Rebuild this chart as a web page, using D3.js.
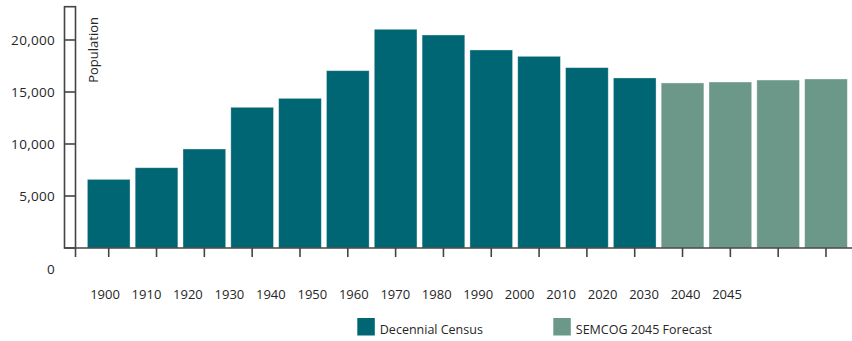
<!DOCTYPE html>
<html>
<head>
<meta charset="utf-8">
<script src="https://cdn.jsdelivr.net/npm/d3@7"></script>
<style>
  html, body { margin: 0; padding: 0; background: #fff; }
  svg { display: block; }
  text { font-family: "Open Sans", "Noto Sans", sans-serif; fill: #262626; }
</style>
</head>
<body>
<svg id="chart" width="852" height="341"></svg>
<script>
const categories = ["1900","1910","1920","1930","1940","1950","1960","1970","1980","1990","2000","2010","2020","2030","2040","2045"];
const barKeys = d3.range(16).map(String);
const values = [6600, 7720, 9520, 13530, 14390, 17050, 21030, 20480, 19040, 18430, 17340, 16350, 15870, 15960, 16150, 16250];
const seriesOf = ["census","census","census","census","census","census","census","census","census","census","census","census","forecast","forecast","forecast","forecast"];
const yTicks = [0, 5000, 10000, 15000, 20000];
const yMax = 23200;
const legendItems = [
  { key: "census", label: "Decennial Census" },
  { key: "forecast", label: "SEMCOG 2045 Forecast" }
];
const colors = { census: "#006673", forecast: "#6c9889" };

const svg = d3.select("#chart");
const axisColor = "#444444";
const y0 = 248, yTop = 6.7;
const wallL = 64.5, wallR = 75.5;

const y = d3.scaleLinear().domain([0, yMax]).range([y0, yTop]);
const x = d3.scaleBand().domain(barKeys).range([84.8, 849.9]).paddingInner(0.107).paddingOuter(0.0535);
const xl = d3.scalePoint().domain(categories).range([105, 727]);

// bars
svg.append("g").selectAll("rect").data(values).join("rect")
  .attr("x", (d, i) => x(barKeys[i]))
  .attr("width", x.bandwidth())
  .attr("y", d => y(d))
  .attr("height", d => y0 - y(d))
  .attr("fill", (d, i) => colors[seriesOf[i]])
  .attr("stroke", "#ffffff").attr("stroke-opacity", 0.45).attr("stroke-width", 0.8);

// y axis wall
const g = svg.append("g").attr("stroke", axisColor).attr("stroke-width", 1.6).attr("fill", "none");
g.append("rect").attr("x", wallL).attr("y", yTop).attr("width", wallR - wallL).attr("height", y0 - yTop);
g.selectAll("line.yt").data(yTicks.filter(d => d > 0)).join("line")
  .attr("x1", wallL).attr("x2", wallR).attr("y1", d => y(d)).attr("y2", d => y(d));
// baseline
g.append("line").attr("x1", wallL).attr("x2", 852).attr("y1", y0).attr("y2", y0);
// x ticks
const tickXs = [wallR].concat(barKeys.map(k => x(k) + x.bandwidth() / 2));
g.selectAll("line.xt").data(tickXs).join("line")
  .attr("x1", d => d).attr("x2", d => d).attr("y1", y0).attr("y2", y0 + 9);

// y tick labels
svg.append("g").selectAll("text").data(yTicks).join("text")
  .attr("x", 55)
  .attr("y", d => d === 0 ? y(d) + 26 : y(d) + 5)
  .attr("text-anchor", "end")
  .style("font-size", "13.5px")
  .style("letter-spacing", "0.3px")
  .text(d => d3.format(",")(d));

// x labels
svg.append("g").selectAll("text").data(categories).join("text")
  .attr("x", d => xl(d))
  .attr("y", 298.5)
  .attr("text-anchor", "middle")
  .style("font-size", "13px")
  .text(d => d);

// y title
svg.append("text")
  .attr("transform", "translate(98,17) rotate(-90)")
  .attr("text-anchor", "end")
  .style("font-size", "13px")
  .text("Population");

// legend
const leg = svg.append("g").selectAll("g").data(legendItems).join("g")
  .attr("transform", (d, i) => `translate(${i === 0 ? 357.3 : 553.3},318)`);
leg.append("rect").attr("width", 17.5).attr("height", 17.5).attr("fill", d => colors[d.key]);
leg.append("text").attr("x", 22.5).attr("y", 15.5).style("font-size", "12.5px").text(d => d.label);
</script>
</body>
</html>
